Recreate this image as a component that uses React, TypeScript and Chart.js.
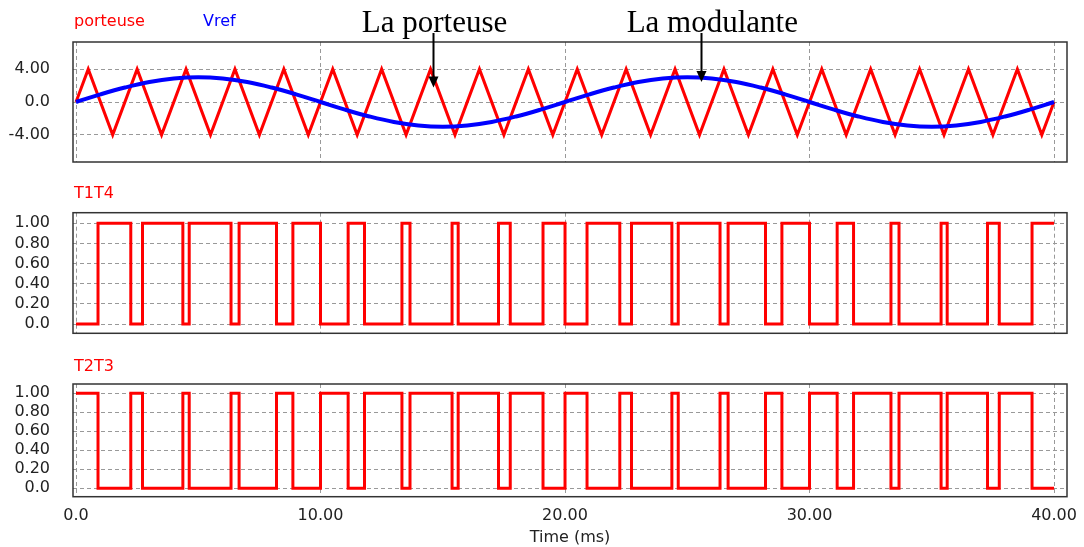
import React, { useEffect, useRef } from 'react';
import { Chart, registerables } from 'chart.js';

Chart.register(...registerables);

// ---- data ----
const carrierTime = [0, 0.5, 1.5, 2.5, 3.5, 4.5, 5.5, 6.5, 7.5, 8.5, 9.5, 10.5, 11.5, 12.5, 13.5, 14.5, 15.5, 16.5, 17.5, 18.5, 19.5, 20.5, 21.5, 22.5, 23.5, 24.5, 25.5, 26.5, 27.5, 28.5, 29.5, 30.5, 31.5, 32.5, 33.5, 34.5, 35.5, 36.5, 37.5, 38.5, 39.5, 40];
const carrierValue = [0, 4, -4, 4, -4, 4, -4, 4, -4, 4, -4, 4, -4, 4, -4, 4, -4, 4, -4, 4, -4, 4, -4, 4, -4, 4, -4, 4, -4, 4, -4, 4, -4, 4, -4, 4, -4, 4, -4, 4, -4, 0];

const vrefTime = [0, 1, 2, 3, 4, 5, 6, 7, 8, 9, 10, 11, 12, 13, 14, 15, 16, 17, 18, 19, 20, 21, 22, 23, 24, 25, 26, 27, 28, 29, 30, 31, 32, 33, 34, 35, 36, 37, 38, 39, 40];
const vrefValue = [0, 0.93, 1.76, 2.43, 2.85, 3, 2.85, 2.43, 1.76, 0.93, 0, -0.93, -1.76, -2.43, -2.85, -3, -2.85, -2.43, -1.76, -0.93, 0, 0.93, 1.76, 2.43, 2.85, 3, 2.85, 2.43, 1.76, 0.93, 0, -0.93, -1.76, -2.43, -2.85, -3, -2.85, -2.43, -1.76, -0.93, 0];

// switching instants (ms) of the PWM signals
const switchTimes = [0.9, 2.24, 2.72, 4.37, 4.63, 6.34, 6.67, 8.2, 8.87, 10.0, 11.13, 11.8, 13.33, 13.66, 15.38, 15.63, 17.28, 17.76, 19.1, 20.0, 20.9, 22.24, 22.72, 24.37, 24.63, 26.34, 26.67, 28.2, 28.87, 30.0, 31.13, 31.8, 33.33, 33.66, 35.38, 35.63, 37.28, 37.76, 39.1];
const t1t4Start = 0;
const t2t3Start = 1;
const endTime = 40;

const xTickValues = [0, 10, 20, 30, 40];
const xTickLabels = ['0.0', '10.00', '20.00', '30.00', '40.00'];
const topTickValues = [-4, 0, 4];
const topTickLabels = ['-4.00', '0.0', '4.00'];
const pwmTickValues = [0, 0.2, 0.4, 0.6, 0.8, 1];
const pwmTickLabels = ['0.0', '0.20', '0.40', '0.60', '0.80', '1.00'];

const seriesNames = ['porteuse', 'Vref', 'T1T4', 'T2T3'];
const annotationTexts = ['La porteuse', 'La modulante'];
const annotationTextTime = [11.69, 22.52];
const annotationArrowTime = [14.61, 25.55];
const annotationArrowTip = [1.77, 2.43];

// ---- helpers ----
const RED = '#ff0000';
const BLUE = '#0000ff';
const FONT = { family: '"DejaVu Sans", sans-serif', size: 16 };

function toPoints(xs: number[], ys: number[]) {
  return xs.map((x, i) => ({ x, y: ys[i] }));
}

function pwmPoints(start: number) {
  const pts = [{ x: 0, y: start }];
  let s = start;
  for (const t of switchTimes) {
    pts.push({ x: t, y: s });
    s = 1 - s;
    pts.push({ x: t, y: s });
  }
  pts.push({ x: endTime, y: s });
  return pts;
}

const framePlugin = {
  id: 'frame',
  afterDatasetsDraw(chart: any, _a: any, opts: any) {
    const { ctx, chartArea: a } = chart;
    ctx.save();
    ctx.strokeStyle = '#333';
    ctx.lineWidth = 1.5;
    ctx.strokeRect(a.left, a.top, a.right - a.left, a.bottom - a.top);
    ctx.font = '16px "DejaVu Sans", sans-serif';
    ctx.textBaseline = 'alphabetic';
    ctx.textAlign = 'left';
    for (const l of opts.labels || []) {
      ctx.fillStyle = l.color;
      ctx.fillText(l.text, a.left + l.dx, a.top - l.dy);
    }
    const notes = opts.notes || [];
    if (notes.length) {
      const xs = chart.scales.x;
      const ys = chart.scales.y;
      ctx.font = '31px "Liberation Serif", "Times New Roman", serif';
      ctx.fillStyle = '#000';
      ctx.strokeStyle = '#000';
      for (const n of notes) {
        const tx = xs.getPixelForValue(n.textTime);
        ctx.fillText(n.text, tx, a.top - 10.3);
        const ax = Math.round(xs.getPixelForValue(n.arrowTime)) + 0.5;
        const tip = ys.getPixelForValue(n.tip);
        ctx.lineWidth = 2;
        ctx.beginPath();
        ctx.moveTo(ax, a.top - 9);
        ctx.lineTo(ax, tip - 8);
        ctx.stroke();
        ctx.beginPath();
        ctx.moveTo(ax, tip);
        ctx.lineTo(ax - 5, tip - 11);
        ctx.lineTo(ax + 5, tip - 11);
        ctx.closePath();
        ctx.fill();
      }
    }
    ctx.restore();
  },
};

function makeConfig(p: {
  datasets: any[];
  yMin: number;
  yMax: number;
  yTicks: number[];
  yLabels: string[];
  showX: boolean;
  padTop: number;
  padBottom: number;
  xHeight: number;
  labels: any[];
  notes?: any[];
}) {
  return {
    type: 'line' as const,
    data: { datasets: p.datasets },
    plugins: [framePlugin],
    options: {
      responsive: false,
      maintainAspectRatio: false,
      animation: false as const,
      layout: { padding: { left: 0, right: 17, top: p.padTop, bottom: p.padBottom } },
      elements: { point: { radius: 0 } },
      plugins: {
        legend: { display: false },
        tooltip: { enabled: false },
        frame: { labels: p.labels, notes: p.notes || [] },
      },
      scales: {
        x: {
          type: 'linear' as const,
          min: -0.123,
          max: 40.53,
          afterBuildTicks: (s: any) => {
            s.ticks = xTickValues.map((v) => ({ value: v }));
          },
          afterFit: (s: any) => {
            s.height = p.xHeight;
            s.paddingLeft = 0;
            s.paddingRight = 0;
          },
          grid: { color: '#999', lineWidth: 1, drawTicks: false },
          border: { display: false, dash: [4, 3] },
          ticks: {
            display: p.showX,
            padding: 10,
            color: '#222',
            font: FONT,
            maxRotation: 0,
            autoSkip: false,
            callback: (_v: any, i: number) => xTickLabels[i],
          },
          title: {
            display: p.showX,
            text: 'Time (ms)',
            color: '#222',
            font: FONT,
            padding: { top: 0, bottom: 0 },
          },
        },
        y: {
          type: 'linear' as const,
          min: p.yMin,
          max: p.yMax,
          afterBuildTicks: (s: any) => {
            s.ticks = p.yTicks.map((v) => ({ value: v }));
          },
          afterFit: (s: any) => {
            s.width = 73;
            s.paddingTop = 0;
            s.paddingBottom = 0;
          },
          grid: { color: '#999', lineWidth: 1, drawTicks: false },
          border: { display: false, dash: [4, 3] },
          ticks: {
            padding: 23,
            color: '#222',
            font: FONT,
            autoSkip: false,
            callback: (_v: any, i: number) => p.yLabels[i],
          },
        },
      },
    },
  };
}

export default function App() {
  const r1 = useRef<HTMLCanvasElement>(null);
  const r2 = useRef<HTMLCanvasElement>(null);
  const r3 = useRef<HTMLCanvasElement>(null);

  useEffect(() => {
    const c1 = new Chart(
      r1.current as any,
      makeConfig({
        datasets: [
          {
            label: seriesNames[1],
            data: toPoints(vrefTime, vrefValue),
            borderColor: BLUE,
            borderWidth: 4,
            tension: 0.4,
            fill: false,
          },
          {
            label: seriesNames[0],
            data: toPoints(carrierTime, carrierValue),
            borderColor: RED,
            borderWidth: 3,
            tension: 0,
            fill: false,
          },
        ],
        yMin: -7.3,
        yMax: 7.3,
        yTicks: topTickValues,
        yLabels: topTickLabels,
        showX: false,
        padTop: 42,
        padBottom: 8,
        xHeight: 0,
        labels: [
          { text: seriesNames[0], color: RED, dx: 1, dy: 16.3 },
          { text: seriesNames[1], color: BLUE, dx: 130, dy: 16.3 },
        ],
        notes: annotationTexts.map((t, i) => ({
          text: t,
          textTime: annotationTextTime[i],
          arrowTime: annotationArrowTime[i],
          tip: annotationArrowTip[i],
        })),
      }) as any
    );
    const c2 = new Chart(
      r2.current as any,
      makeConfig({
        datasets: [
          { label: seriesNames[2], data: pwmPoints(t1t4Start), borderColor: RED, borderWidth: 3, tension: 0, fill: false },
        ],
        yMin: -0.092,
        yMax: 1.105,
        yTicks: pwmTickValues,
        yLabels: pwmTickLabels,
        showX: false,
        padTop: 42.7,
        padBottom: 6.7,
        xHeight: 0,
        labels: [{ text: seriesNames[2], color: RED, dx: 1, dy: 14.4 }],
      }) as any
    );
    const c3 = new Chart(
      r3.current as any,
      makeConfig({
        datasets: [
          { label: seriesNames[3], data: pwmPoints(t2t3Start), borderColor: RED, borderWidth: 3, tension: 0, fill: false },
        ],
        yMin: -0.088,
        yMax: 1.098,
        yTicks: pwmTickValues,
        yLabels: pwmTickLabels,
        showX: true,
        padTop: 44,
        padBottom: 0,
        xHeight: 50.3,
        labels: [{ text: seriesNames[3], color: RED, dx: 1, dy: 13 }],
      }) as any
    );
    return () => {
      c1.destroy();
      c2.destroy();
      c3.destroy();
    };
  }, []);

  const box = (top: number, h: number): React.CSSProperties => ({
    position: 'absolute',
    left: 0,
    top,
    width: 1084,
    height: h,
  });

  return (
    <div style={{ position: 'absolute', left: 0, top: 0, width: 1084, height: 547, background: '#fff', overflow: 'hidden' }}>
      <div style={box(0, 170)}>
        <canvas ref={r1} width={1084} height={170} style={{ display: 'block' }} />
      </div>
      <div style={box(170, 170)}>
        <canvas ref={r2} width={1084} height={170} style={{ display: 'block' }} />
      </div>
      <div style={box(340, 207)}>
        <canvas ref={r3} width={1084} height={207} style={{ display: 'block' }} />
      </div>
    </div>
  );
}
